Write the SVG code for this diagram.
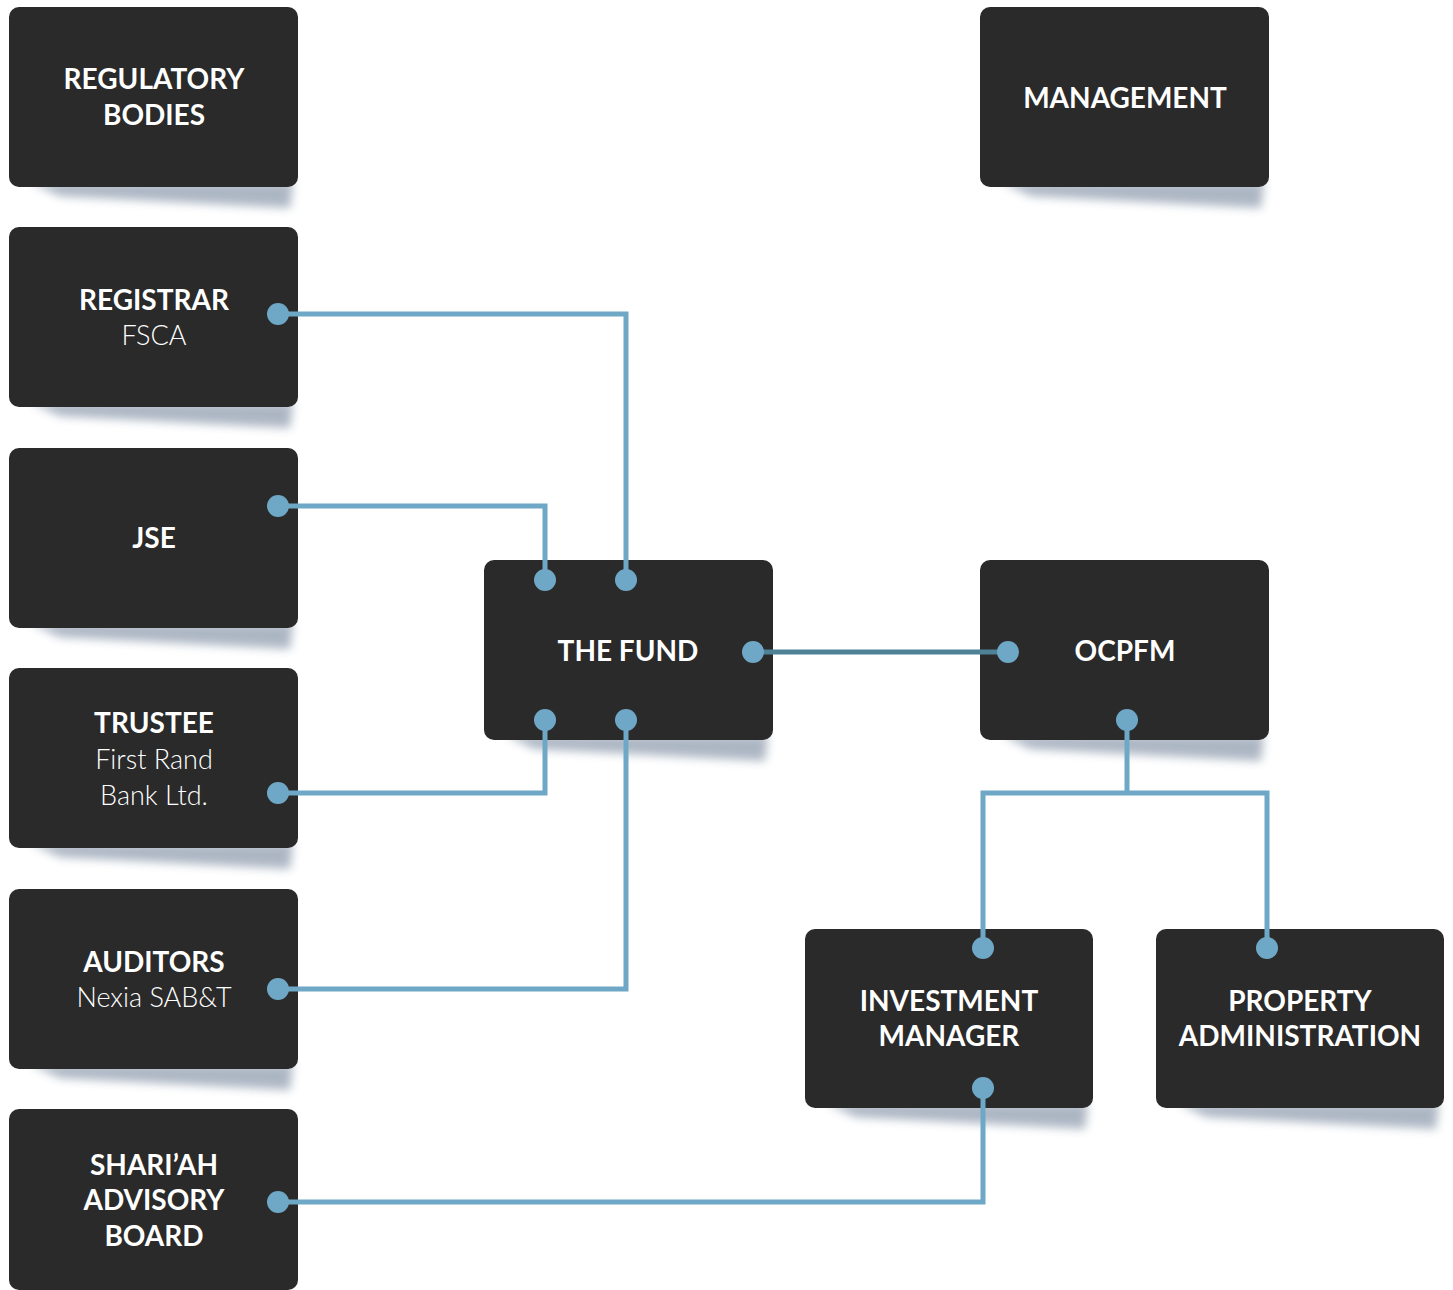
<svg xmlns="http://www.w3.org/2000/svg" width="1453" height="1290" viewBox="0 0 1453 1290">
<defs>
<style>
.box{fill:#2a2a2a}
.sh{fill:#4a5f7c;opacity:0.45;filter:url(#blur)}
.t{font-family:Lato,"Open Sans",sans-serif;font-weight:700;font-size:28px;fill:#ffffff;text-anchor:middle}
.s{font-family:Lato,"Open Sans",sans-serif;font-weight:300;font-size:27px;fill:#ffffff;text-anchor:middle}
.ln{fill:none;stroke:#6fa8c7;stroke-width:5}
.ln2{fill:none;stroke:#4f8197;stroke-width:5}
.dot{fill:#6fa8c7}
</style>
<filter id="blur" x="-10%" y="-50%" width="120%" height="200%"><feGaussianBlur stdDeviation="5"/></filter>
</defs>
<rect width="1453" height="1290" fill="#ffffff"/>
<g id="shadows">
<polygon class="sh" points="30,182 293,182 290,208 60,196"/>
<polygon class="sh" points="30,402 293,402 290,428 60,416"/>
<polygon class="sh" points="30,623 293,623 290,649 60,637"/>
<polygon class="sh" points="30,843 293,843 290,869 60,857"/>
<polygon class="sh" points="30,1064 293,1064 290,1090 60,1078"/>
<polygon class="sh" points="1001,182 1264,182 1261,208 1031,196"/>
<polygon class="sh" points="505,735 768,735 765,761 535,749"/>
<polygon class="sh" points="1001,735 1264,735 1261,761 1031,749"/>
<polygon class="sh" points="826,1103 1088,1103 1085,1129 856,1117"/>
<polygon class="sh" points="1177,1103 1439,1103 1436,1129 1207,1117"/>
</g>
<g id="regulatory"><rect class="box" x="9" y="7" width="289" height="180" rx="10"/><text class="t" x="154" y="89">REGULATORY</text><text class="t" x="154" y="125">BODIES</text></g>
<g id="registrar"><rect class="box" x="9" y="227" width="289" height="180" rx="10"/><text class="t" x="154" y="310">REGISTRAR</text><text class="s" x="154" y="345">FSCA</text></g>
<g id="jse"><rect class="box" x="9" y="448" width="289" height="180" rx="10"/><text class="t" x="154" y="548">JSE</text></g>
<g id="trustee"><rect class="box" x="9" y="668" width="289" height="180" rx="10"/><text class="t" x="154" y="733">TRUSTEE</text><text class="s" x="154" y="769">First Rand</text><text class="s" x="154" y="805">Bank Ltd.</text></g>
<g id="auditors"><rect class="box" x="9" y="889" width="289" height="180" rx="10"/><text class="t" x="154" y="972">AUDITORS</text><text class="s" x="154" y="1007">Nexia SAB&amp;T</text></g>
<g id="shariah"><rect class="box" x="9" y="1109" width="289" height="181" rx="10"/><text class="t" x="154" y="1175">SHARI’AH</text><text class="t" x="154" y="1210">ADVISORY</text><text class="t" x="154" y="1246">BOARD</text></g>
<g id="management"><rect class="box" x="980" y="7" width="289" height="180" rx="10"/><text class="t" x="1125" y="108">MANAGEMENT</text></g>
<g id="fund"><rect class="box" x="484" y="560" width="289" height="180" rx="10"/><text class="t" x="628" y="661">THE FUND</text></g>
<g id="ocpfm"><rect class="box" x="980" y="560" width="289" height="180" rx="10"/><text class="t" x="1125" y="661">OCPFM</text></g>
<g id="investment"><rect class="box" x="805" y="929" width="288" height="179" rx="10"/><text class="t" x="949" y="1011">INVESTMENT</text><text class="t" x="949" y="1046">MANAGER</text></g>
<g id="property"><rect class="box" x="1156" y="929" width="288" height="179" rx="10"/><text class="t" x="1300" y="1011">PROPERTY</text><text class="t" x="1300" y="1046">ADMINISTRATION</text></g>
<g id="connectors">
<polyline class="ln" points="278,314 626,314 626,580"/>
<polyline class="ln" points="278,506 545,506 545,580"/>
<polyline class="ln" points="278,793 545,793 545,720"/>
<polyline class="ln" points="278,989 626,989 626,720"/>
<polyline class="ln2" points="753,652 1008,652"/>
<polyline class="ln" points="1127,720 1127,793"/>
<polyline class="ln" points="983,948 983,793 1267,793 1267,948"/>
<polyline class="ln" points="983,1088 983,1202 278,1202"/>
<circle class="dot" cx="278" cy="314" r="11"/>
<circle class="dot" cx="278" cy="506" r="11"/>
<circle class="dot" cx="278" cy="793" r="11"/>
<circle class="dot" cx="278" cy="989" r="11"/>
<circle class="dot" cx="278" cy="1202" r="11"/>
<circle class="dot" cx="545" cy="580" r="11"/>
<circle class="dot" cx="626" cy="580" r="11"/>
<circle class="dot" cx="545" cy="720" r="11"/>
<circle class="dot" cx="626" cy="720" r="11"/>
<circle class="dot" cx="753" cy="652" r="11"/>
<circle class="dot" cx="1008" cy="652" r="11"/>
<circle class="dot" cx="1127" cy="720" r="11"/>
<circle class="dot" cx="983" cy="948" r="11"/>
<circle class="dot" cx="1267" cy="948" r="11"/>
<circle class="dot" cx="983" cy="1088" r="11"/>
</g>
</svg>
